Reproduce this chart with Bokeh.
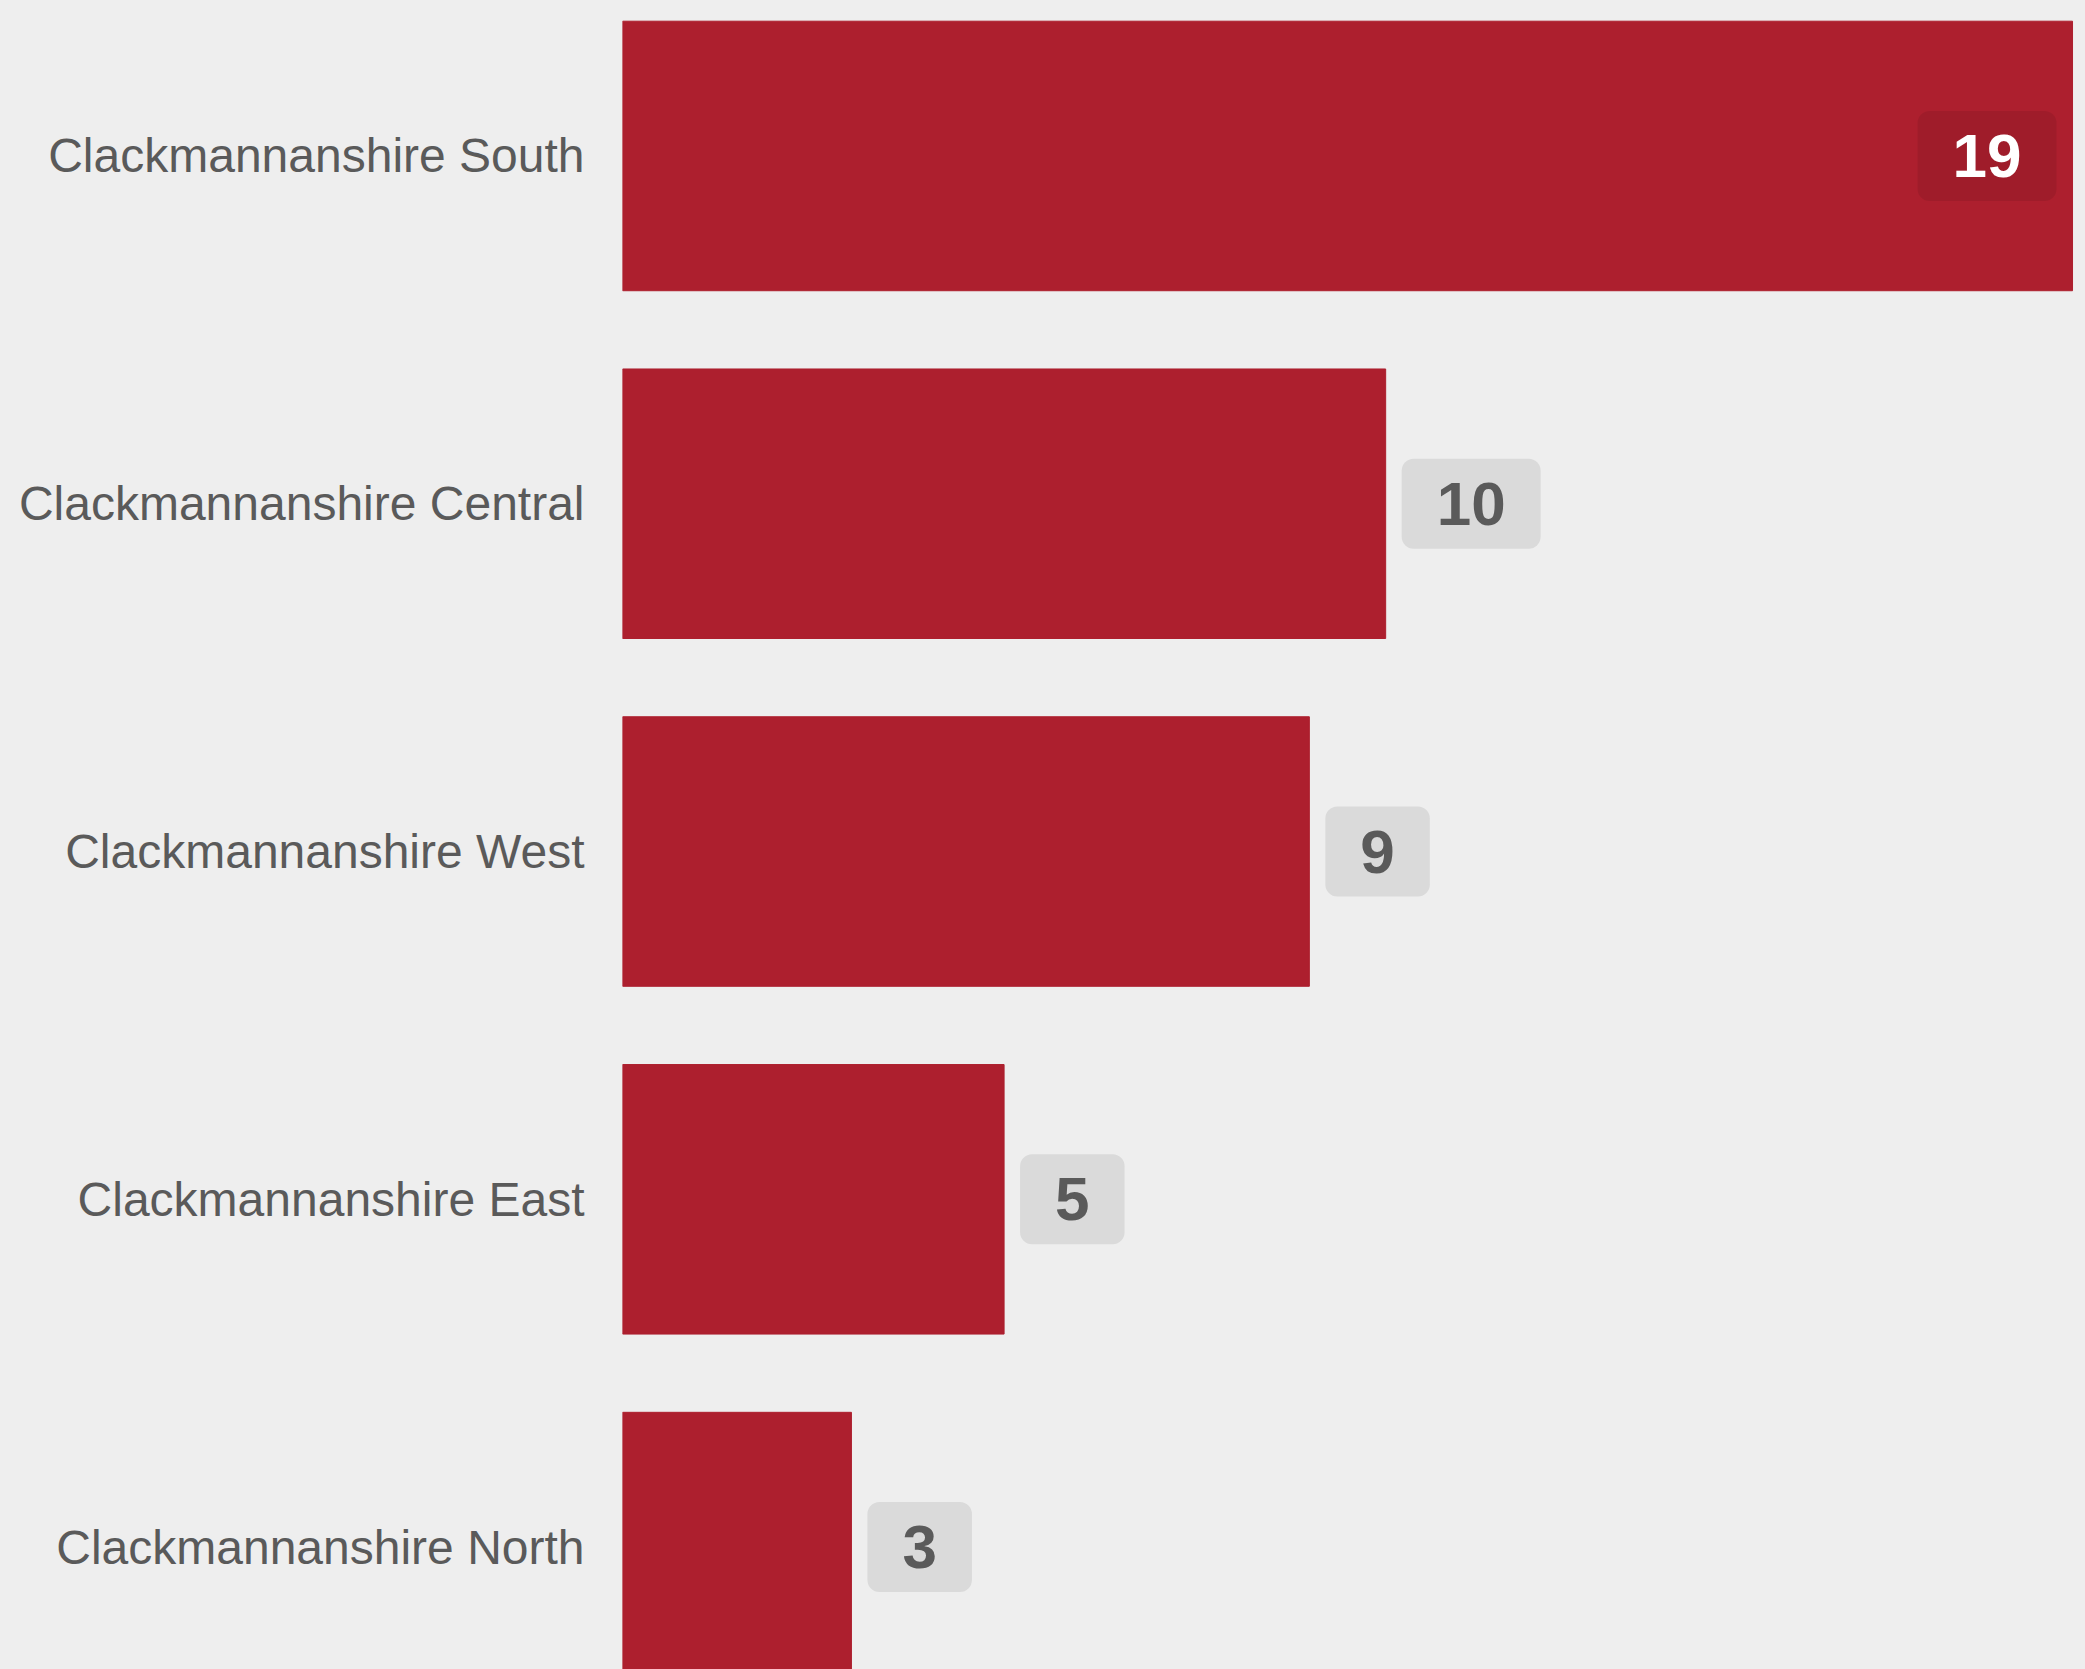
from bokeh.plotting import figure
from bokeh.models import Range1d, FixedTicker, ColumnDataSource
from bokeh.core.properties import value
from bokeh.embed import file_html
from bokeh.resources import INLINE

categories = ["Clackmannanshire South", "Clackmannanshire Central", "Clackmannanshire West",
              "Clackmannanshire East", "Clackmannanshire North"]
values = [19, 10, 9, 5, 3]

pos = list(range(len(categories)))
inside = [v == max(values) for v in values]

src_out = ColumnDataSource(dict(
    y=[p for p, i in zip(pos, inside) if not i],
    x=[v for v, i in zip(values, inside) if not i],
    t=[str(v) for v, i in zip(values, inside) if not i],
))
src_in = ColumnDataSource(dict(
    y=[p for p, i in zip(pos, inside) if i],
    x=[v for v, i in zip(values, inside) if i],
    t=[str(v) for v, i in zip(values, inside) if i],
))

BG = "#eeeeee"
p = figure(width=2085, height=1669, output_backend="svg", toolbar_location=None,
           x_range=Range1d(0, 19.17), y_range=Range1d(4.352, -0.447),
           x_axis_location=None, min_border_left=622, min_border_right=0,
           min_border_top=0, min_border_bottom=0)
p.background_fill_color = BG
p.border_fill_color = BG
p.outline_line_color = None
p.grid.visible = False

p.hbar(y=pos, right=values, left=0, height=0.775, color="#ad1f2e")

pad = dict(left=35, right=35, top=24, bottom=24)
p.text(x="x", y="y", text="t", source=src_out, x_offset=16, anchor="center_left",
       text_font=value("Liberation Sans"), text_font_style="bold", text_font_size="62px",
       text_color="#5a5a5a", background_fill_color="#dadada", border_radius=12,
       padding=pad)
p.text(x="x", y="y", text="t", source=src_in, x_offset=-16, anchor="center_right",
       text_font=value("Liberation Sans"), text_font_style="bold", text_font_size="62px",
       text_color="white", background_fill_color="black", background_fill_alpha=0.08,
       border_radius=12, padding=pad)

ax = p.yaxis[0]
ax.ticker = FixedTicker(ticks=pos)
ax.major_label_overrides = {i: c for i, c in zip(pos, categories)}
ax.axis_line_color = None
ax.major_tick_line_color = None
ax.minor_tick_line_color = None
ax.major_tick_in = 0
ax.major_tick_out = 0
ax.major_label_standoff = 38
ax.major_label_text_font = "Liberation Sans"
ax.major_label_text_font_size = "48px"
ax.major_label_text_color = "#5a5a5a"

template = """{% block preamble %}<style>body{background:#eeeeee;}</style>{% endblock %}"""

open("out.html", "w").write(file_html(p, INLINE, template=template))
